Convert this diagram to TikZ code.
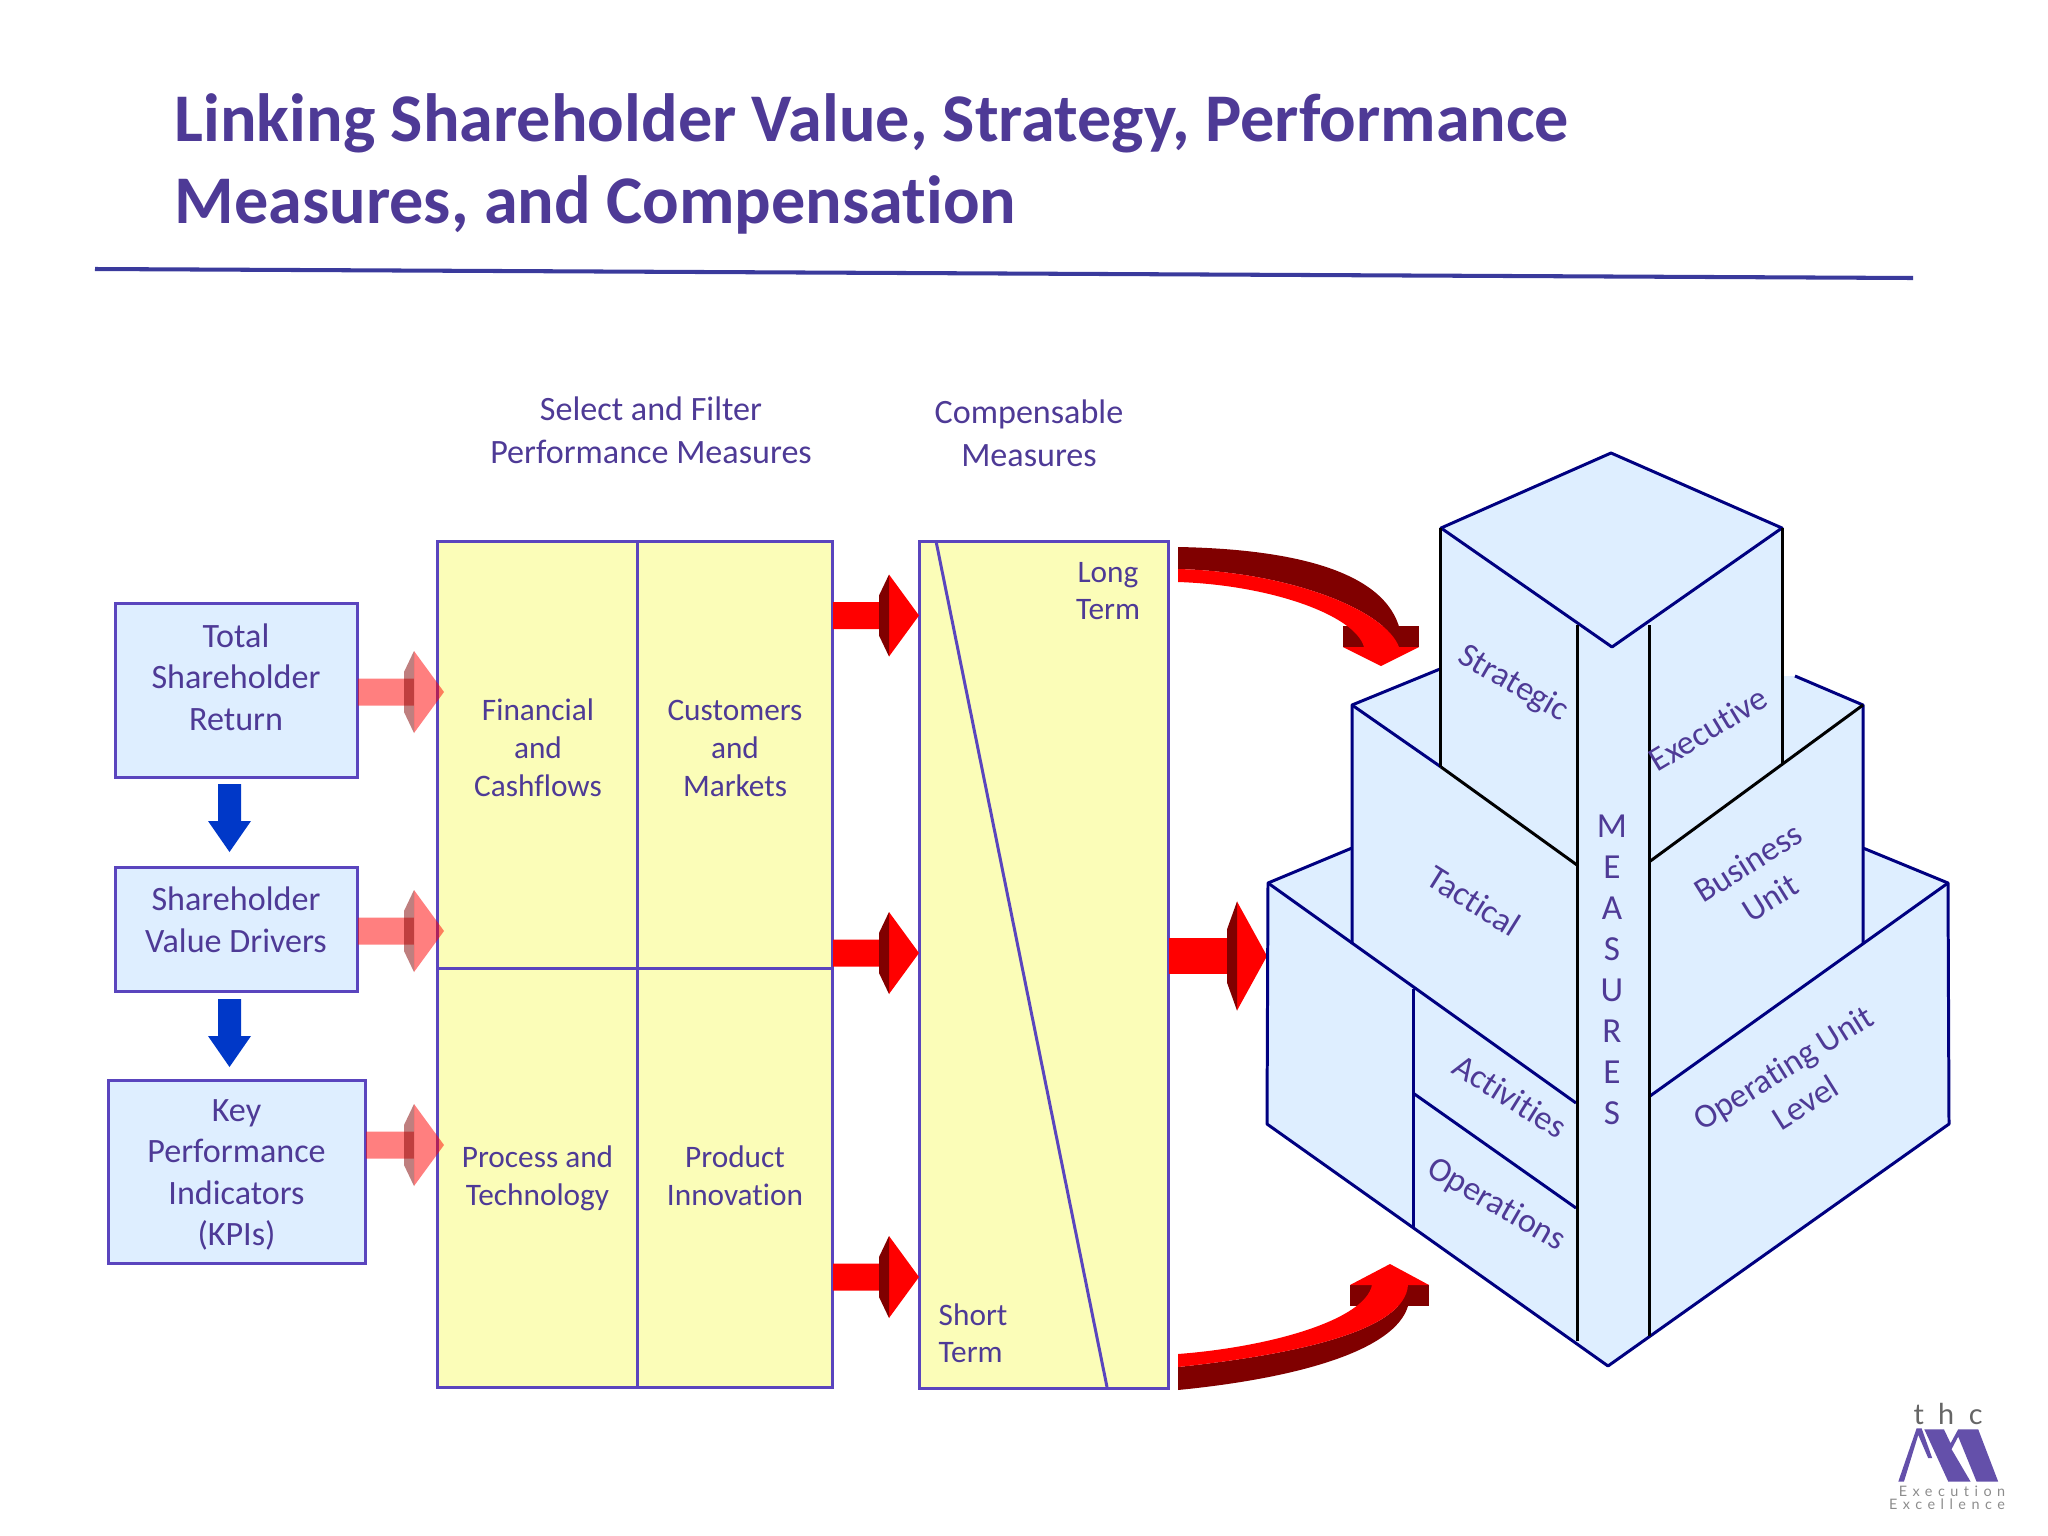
\documentclass[tikz,border=0pt]{standalone}
\usepackage{fontspec}
\setmainfont{Carlito}[Ligatures=NoCommon]
\newfontfamily\logofont[LetterSpace=38,Ligatures=NoCommon]{Lato}
\newfontfamily\logowide[LetterSpace=50]{Lato}
\usepackage{xcolor}
\usetikzlibrary{positioning,calc}
\definecolor{inkpurple}{HTML}{4E3A96}
\definecolor{edgepurple}{HTML}{5A45BE}
\definecolor{rulenavy}{HTML}{3A3A9C}
\definecolor{cubenavy}{HTML}{000080}
\definecolor{paleblue}{HTML}{DEEEFF}
\definecolor{paleyellow}{HTML}{FBFDB8}
\definecolor{darkred}{HTML}{800000}
\definecolor{downblue}{HTML}{0038C8}
\definecolor{logopurple}{HTML}{6450AA}
% flat arrow with a dark collar behind the head: [size]{from}{to}{opacity}
\newcommand{\collararrow}[4][1]{%
  \fill[red,opacity=#4] ($(#2)+(0,-13.5*#1)$) -- ($(#3)+(-30,-13.5*#1)$) -- ($(#3)+(-30,-41*#1)$)
    -- (#3) -- ($(#3)+(-30,41*#1)$) -- ($(#3)+(-30,13.5*#1)$) -- ($(#2)+(0,13.5*#1)$) -- cycle;
  \fill[darkred,opacity=#4] ($(#3)+(-40,-20*#1)$) -- ($(#3)+(-30,-41*#1)$)
    -- ($(#3)+(-30,41*#1)$) -- ($(#3)+(-40,20*#1)$) -- cycle;
}
% plain blue arrow pointing down
\newcommand{\bluearrow}[2]{%
  \fill[downblue] ($(#1)+(-11.5,0)$) -- ($(#2)+(-11.5,-31)$) -- ($(#2)+(-21.5,-31)$) -- (#2)
    -- ($(#2)+(21.5,-31)$) -- ($(#2)+(11.5,-31)$) -- ($(#1)+(11.5,0)$) -- cycle;
}

\begin{document}
\begin{tikzpicture}[
  x=0.01cm,y=-0.01cm,
  txt/.style={text=inkpurple,align=center,font=\fontsize{9.7}{11.8}\selectfont,inner sep=0pt},
  head/.style={txt,font=\fontsize{9.7}{12.3}\selectfont},
  small/.style={txt,font=\fontsize{8.9}{10.8}\selectfont},
  box/.style={rectangle,draw=edgepurple,line width=0.85pt,fill=paleblue,inner sep=0pt},
  cell/.style={box,small,fill=paleyellow},
  cube/.style={draw=cubenavy,line width=0.85pt,line join=round},
  cubeblk/.style={draw=black,line width=0.85pt},
  face/.style={txt}]
  \useasboundingbox (0,0) rectangle (2048,1536);
  % title
  \node[anchor=west,text=inkpurple,align=left,font=\fontsize{19.4}{23.4}\bfseries\selectfont,inner sep=0pt] (title) at (174,164)
    {Linking Shareholder Value, Strategy, Performance\\Measures, and Compensation};
  \coordinate (ruleL) at (95,269);
  \coordinate (ruleR) at (1913,278);
  \draw[rulenavy,line width=1.15pt] (ruleL) -- (ruleR);
  % left boxes
  \node[box,minimum width=2.41cm,minimum height=1.73cm] (tsr) at (236.5,690.5) {};
  \node[txt] (tsrt) at (236,677) {Total\\Shareholder\\Return};
  \node[box,minimum width=2.41cm,minimum height=1.24cm] (svd) at (236.5,929.5) {};
  \node[txt] (svdt) at (236,920) {Shareholder\\Value Drivers};
  \node[box,minimum width=2.56cm,minimum height=1.83cm] (kpi) at (237,1172) {};
  \node[txt] (kpit) at (236.5,1175) {Key\\Performance\\Indicators\\(KPIs)};
  \coordinate (d1a) at (229.5,784);
  \coordinate (d1b) at (229.5,852);
  \coordinate (d2a) at (229.5,999);
  \coordinate (d2b) at (229.5,1067);
  \bluearrow{d1a}{d1b}
  \bluearrow{d2a}{d2b}
  % measures grid
  \node[head] (selhead) at (651,430) {Select and Filter\\Performance Measures};
  \node[cell,minimum width=1.99cm,minimum height=4.26cm] (fin) at (537.5,755) {};
  \node[cell,minimum width=1.95cm,minimum height=4.26cm] (cus) at (735,755) {};
  \node[cell,minimum width=1.99cm,minimum height=4.19cm] (pro) at (537.5,1178) {Process and\\Technology};
  \node[cell,minimum width=1.95cm,minimum height=4.19cm] (inn) at (735,1178) {Product\\Innovation\vphantom{y}};
  \node[small] (fint) at (538,748) {Financial\\and\\Cashflows};
  \node[small] (cust) at (735,748) {Customers\\and\\Markets};
  % long to short term
  \node[head] (comphead) at (1029,433) {Compensable\\Measures};
  \node[cell,minimum width=2.49cm,minimum height=8.47cm] (term) at (1044,965) {};
  \coordinate (diagT) at (936,541);
  \coordinate (diagB) at (1107,1387);
  \draw[edgepurple,line width=0.85pt] (diagT) -- (diagB);
  \node[small,font=\fontsize{8.9}{10.4}\selectfont] (long) at (1108,591) {Long\\Term};
  \node[small,font=\fontsize{8.9}{10.4}\selectfont,align=left,anchor=west] (short) at (938,1333) {Short\\Term};
  % pale arrows into the grid
  \coordinate (p1a) at (358,692);
  \coordinate (p1b) at (444,692);
  \coordinate (p2a) at (358,931);
  \coordinate (p2b) at (444,931);
  \coordinate (p3a) at (366,1145);
  \coordinate (p3b) at (444,1145);
  \collararrow{p1a}{p1b}{0.5}
  \collararrow{p2a}{p2b}{0.5}
  \collararrow{p3a}{p3b}{0.5}
  % solid arrows into the term box
  \coordinate (r1a) at (833,615.5);
  \coordinate (r1b) at (919,615.5);
  \coordinate (r2a) at (833,953);
  \coordinate (r2b) at (919,953);
  \coordinate (r3a) at (833,1277);
  \coordinate (r3b) at (919,1277);
  \collararrow{r1a}{r1b}{1}
  \collararrow{r2a}{r2b}{1}
  \collararrow{r3a}{r3b}{1}
  \coordinate (bigA) at (1169,956);
  \coordinate (bigB) at (1267,956);
  \collararrow[1.33]{bigA}{bigB}{1}
  % curved arrow, top
  \fill[darkred] (1343,626) rectangle (1419,647);
  \fill[darkred] (1178,547) .. controls (1290,549) and (1385,570) .. (1400,630) -- (1400,647) -- (1399,647)
    .. controls (1385,610) and (1290,572) .. (1178,569) -- cycle;
  \fill[red] (1178,569) .. controls (1290,572) and (1385,610) .. (1399,647) -- (1419,647) -- (1381,666) -- (1343,647) -- (1364,647)
    .. controls (1355,615) and (1270,585) .. (1178,582) -- cycle;
  % curved arrow, bottom
  \fill[darkred] (1350,1285) rectangle (1429,1306);
  \fill[darkred] (1178,1367) .. controls (1300,1354) and (1405,1330) .. (1408,1285) -- (1408,1306)
    .. controls (1395,1350) and (1300,1378) .. (1178,1390) -- cycle;
  \fill[red] (1178,1354) .. controls (1270,1347) and (1365,1320) .. (1372,1285) -- (1350,1285) -- (1390,1264) -- (1429,1285) -- (1408,1285)
    .. controls (1405,1330) and (1300,1354) .. (1178,1367) -- cycle;
  % the stepped block
  \fill[paleblue] (1611,453) -- (1782,528) -- (1782,676) -- (1795,676) -- (1863,705) -- (1863,848) -- (1948,883) -- (1949,1124)
    -- (1608,1366) -- (1267,1124) -- (1268,883) -- (1352,848) -- (1352,705) -- (1440,669) -- (1441,528) -- cycle;
  \draw[cube] (1441,528) -- (1611,453) -- (1782,528) -- (1612,647) -- cycle;
  \draw[cube] (1440,669) -- (1352,705) -- (1352,944);
  \draw[cube] (1795,676) -- (1863,705) -- (1863,944);
  \draw[cube] (1352,848) -- (1268,883) -- (1267,1124) -- (1608,1366) -- (1949,1124) -- (1948,883) -- (1863,848);
  \draw[cube] (1268,883) -- (1576,1103);
  \draw[cube] (1948,883) -- (1650,1096);
  \draw[cube] (1352,705) -- (1441,767);
  \draw[cube] (1413,989) -- (1413,1227);
  \draw[cube] (1413,1093) -- (1576,1208);
  \draw[cubeblk] (1441,767) -- (1577,865);
  \draw[cubeblk] (1863,705) -- (1649,862);
  \draw[cubeblk] (1440,528) -- (1440,767);
  \draw[cubeblk] (1782,528) -- (1782,764);
  \draw[cubeblk] (1577,625) -- (1577,1341);
  \draw[cubeblk] (1649,625) -- (1649,1336);
  % block labels
  \node[face,rotate=-30] (strat) at (1513,684) {Strategic};
  \node[face,rotate=31] (exec) at (1708,729) {Executive};
  \node[face,rotate=-32] (tact) at (1474,901) {Tactical};
  \node[face,rotate=32] (bus) at (1759,880) {Business\\Unit};
  \node[face,rotate=-32] (act) at (1510,1096) {Activities};
  \node[face,rotate=-30] (oper) at (1496,1205) {Operations};
  \node[face,rotate=32] (opu) at (1794,1085) {Operating Unit\\Level};
  \node[txt,font=\fontsize{10}{11.66}\selectfont] (meas) at (1612,970) {M\\E\\A\\S\\U\\R\\E\\S};
  % logo
  \begin{scope}[shift={(1880,1390)},x=0.00333cm,y=-0.00333cm]
  \fill[logopurple] (55,275) -- (110,115) -- (125,115) -- (157,205) -- (145,205) -- (115,135) -- (72,275) -- cycle;
  \fill[logopurple] (133,118) -- (192,118) -- (212,160) -- (235,118) -- (295,118) -- (355,275) -- (290,275)
    -- (235,140) -- (215,178) -- (272,275) -- (205,275) -- cycle;
  \end{scope}
  \node[text=black!60,font=\logowide\fontsize{8.2}{9}\selectfont,inner sep=0pt] (lthc) at (1948,1414) {thc};
  \node[text=black!45,font=\logofont\fontsize{4.1}{5}\selectfont,inner sep=0pt] (lexe) at (1952,1491) {Execution};
  \node[text=black!45,font=\logofont\fontsize{4.1}{5}\selectfont,inner sep=0pt] (lexc) at (1947,1504) {Excellence};
\end{tikzpicture}
\end{document}
